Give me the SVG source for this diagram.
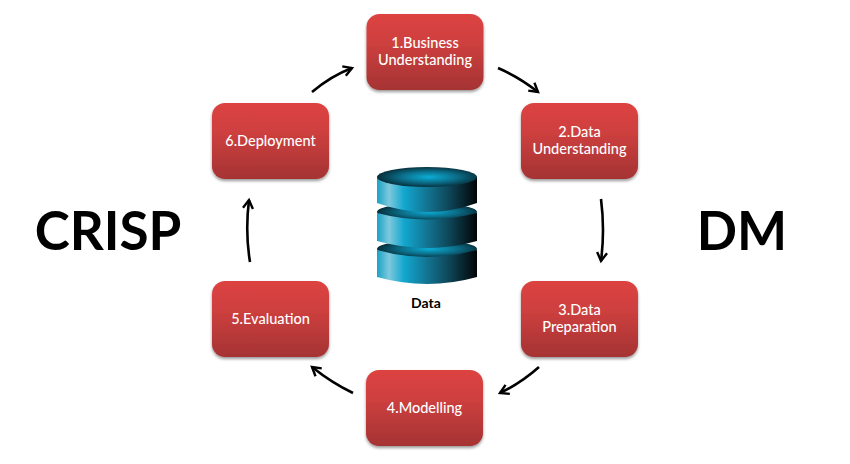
<svg xmlns="http://www.w3.org/2000/svg" width="850" height="464" viewBox="0 0 850 464">
<defs>
<linearGradient id="red" x1="0" y1="0" x2="0" y2="1"><stop offset="0" stop-color="#dc4341"/><stop offset="0.35" stop-color="#d0403f"/><stop offset="1" stop-color="#a53333"/></linearGradient>
<linearGradient id="cyl" x1="0" y1="0" x2="1" y2="0"><stop offset="0" stop-color="#18a3c6"/><stop offset="0.12" stop-color="#7fc8dc"/><stop offset="0.27" stop-color="#12a7cf"/><stop offset="0.45" stop-color="#137f9f"/><stop offset="0.7" stop-color="#0f4a5e"/><stop offset="1" stop-color="#020506"/></linearGradient>
<radialGradient id="top" cx="0.52" cy="0.5" r="0.55"><stop offset="0" stop-color="#0badd6"/><stop offset="0.5" stop-color="#0b6f8b"/><stop offset="1" stop-color="#06262f"/></radialGradient>
<filter id="sh" x="-10%" y="-10%" width="120%" height="125%"><feDropShadow dx="0" dy="2" stdDeviation="1.6" flood-color="#000" flood-opacity="0.4"/></filter>
<marker id="arr" markerWidth="14" markerHeight="14" refX="10.500" refY="6" orient="auto" markerUnits="userSpaceOnUse"><path d="M2 1 L10.500 6 L2 11" fill="none" stroke="#000" stroke-width="2.4"/></marker>
</defs>
<style>
.box{fill:url(#red);filter:url(#sh)}
.t{font-family:"Lato","Open Sans",sans-serif;font-size:14.5px;fill:#fff;text-anchor:middle;font-weight:500}
.b{font-family:"Lato","Open Sans",sans-serif;font-weight:700;fill:#000;text-anchor:middle}
.c{fill:none;stroke:#000;stroke-width:2.6;marker-end:url(#arr)}
.s{fill:url(#cyl)}
.e{fill:url(#top)}
</style>
<g id="connectors">
<path class="c" d="M312 92 Q331 76 352 68"/>
<path class="c" d="M498 68 Q519 77 538 92"/>
<path class="c" d="M601 199 Q605 230 601 261"/>
<path class="c" d="M539 367 Q521 383 500 393"/>
<path class="c" d="M353 393 Q332 383 312 367"/>
<path class="c" d="M250 262 Q245 232 249 200"/>
</g>
<g id="node1"><rect class="box" x="366.500" y="14" width="117" height="76" rx="13"/><text class="t" x="425" y="48">1.Business</text><text class="t" x="425" y="65">Understanding</text></g>
<g id="node2"><rect class="box" x="521" y="103" width="117" height="76" rx="13"/><text class="t" x="579.500" y="137">2.Data</text><text class="t" x="579.500" y="154">Understanding</text></g>
<g id="node3"><rect class="box" x="521" y="281" width="117" height="76" rx="13"/><text class="t" x="579.500" y="315">3.Data</text><text class="t" x="579.500" y="332">Preparation</text></g>
<g id="node4"><rect class="box" x="366" y="370" width="117" height="76" rx="13"/><text class="t" x="424.500" y="413">4.Modelling</text></g>
<g id="node5"><rect class="box" x="212" y="281" width="117" height="76" rx="13"/><text class="t" x="270.500" y="324">5.Evaluation</text></g>
<g id="node6"><rect class="box" x="212" y="103" width="117" height="76" rx="13"/><text class="t" x="270.500" y="146">6.Deployment</text></g>
<g id="data">
<ellipse class="e" cx="427" cy="249" rx="50" ry="9"/>
<path class="s" d="M377 250 Q427 264 477 250 L477 277 Q427 291 377 277 Z"/>
<ellipse class="e" cx="427" cy="212" rx="50" ry="9"/>
<path class="s" d="M377 213 Q427 226 477 213 L477 241 Q427 255 377 241 Z"/>
<path class="s" d="M377 177 L477 177 L477 203 Q427 221 377 203 Z"/>
<ellipse class="e" cx="427" cy="177" rx="50" ry="10"/>
<text class="b" x="426" y="308" font-size="14">Data</text>
</g>
<g id="title-crisp"><text class="b" x="108" y="250" font-size="53">CRISP</text></g>
<g id="title-dm"><text class="b" x="742" y="250" font-size="53">DM</text></g>
</svg>
